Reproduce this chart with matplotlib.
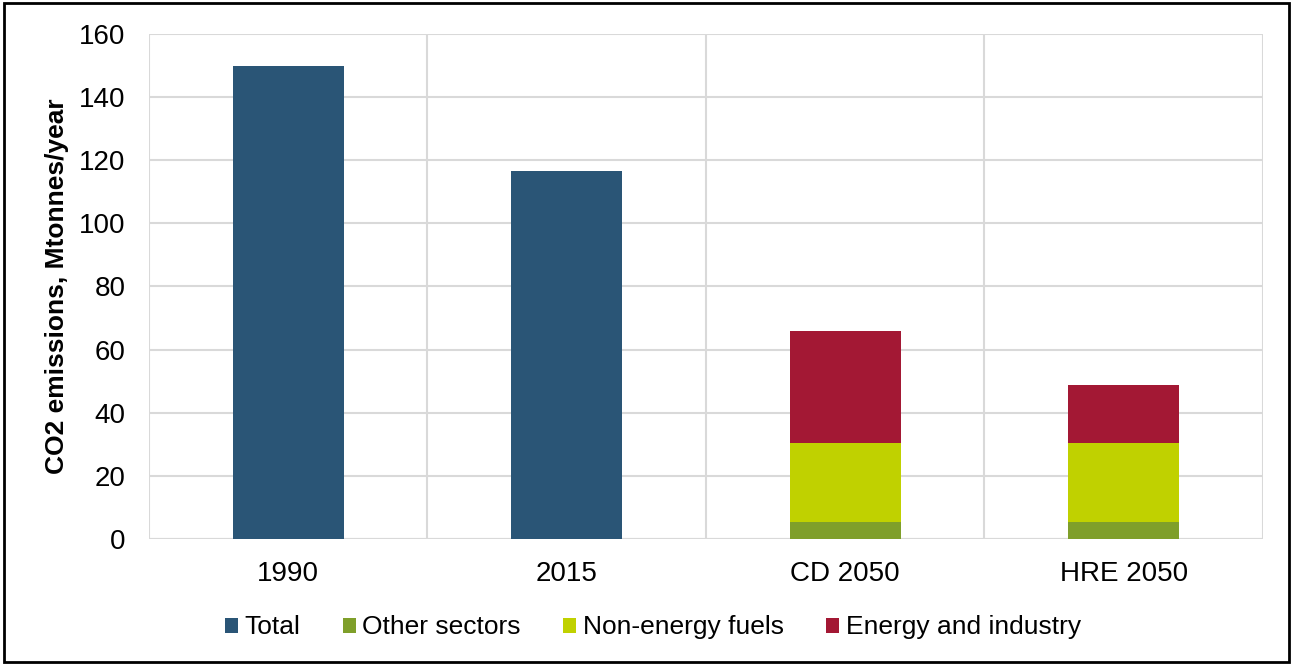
import matplotlib.pyplot as plt
from matplotlib.patches import Rectangle
import numpy as np

plt.rcParams['font.family'] = ['Liberation Sans', 'DejaVu Sans']

categories = ['1990', '2015', 'CD 2050', 'HRE 2050']
total = [150, 116.5, 0, 0]
other_sectors = [0, 0, 5.4, 5.4]
non_energy = [0, 0, 25.1, 25.1]
energy_industry = [0, 0, 35.5, 18.4]

fig = plt.figure(figsize=(12.93, 6.64), dpi=100)
ax = fig.add_axes([0.1152, 0.1883, 0.8616, 0.7605])

x = np.arange(len(categories))
w = 0.4
ax.bar(x, total, w, color='#2a5576', label='Total', zorder=3)
ax.bar(x, other_sectors, w, color='#7f9f2a', label='Other sectors', zorder=3)
b2 = np.array(other_sectors)
ax.bar(x, non_energy, w, bottom=b2, color='#c0d100', label='Non-energy fuels', zorder=3)
b3 = b2 + np.array(non_energy)
ax.bar(x, energy_industry, w, bottom=b3, color='#a31834', label='Energy and industry', zorder=3)

ax.set_xlim(-0.5, 3.5)
ax.set_ylim(0, 160)
ax.set_yticks(range(0, 161, 20))
ax.set_xticks(x)
ax.set_xticklabels(categories)
ax.set_xticks([0.5, 1.5, 2.5], minor=True)
ax.tick_params(axis='both', which='both', length=0, labelsize=20)
ax.tick_params(axis='y', pad=17)
ax.tick_params(axis='x', pad=16)
ax.grid(axis='y', color='#d9d9d9', linewidth=1.5, zorder=0)
ax.grid(axis='x', which='minor', color='#d9d9d9', linewidth=1.5, zorder=0)
for s in ax.spines.values():
    s.set_visible(False)
ax.axvline(-0.5, color='#d9d9d9', linewidth=1.5, zorder=0)
ax.axvline(3.5, color='#d9d9d9', linewidth=1.5, zorder=0)
ax.axhline(0, color='#d9d9d9', linewidth=1.5, zorder=1)
ax.set_ylabel('CO2 emissions, Mtonnes/year', fontsize=19, fontweight='bold', labelpad=7)

fig.legend(*ax.get_legend_handles_labels(), loc='center', bbox_to_anchor=(0.505, 0.055),
           ncol=4, frameon=False, fontsize=19, handlelength=0.5, handleheight=0.5,
           handletextpad=0.25, columnspacing=1.6)

fig.patches.append(Rectangle((0.003, 0.003), 0.994, 0.992, transform=fig.transFigure,
                             fill=False, edgecolor='black', linewidth=2))

fig.savefig('out.png', dpi=100)
